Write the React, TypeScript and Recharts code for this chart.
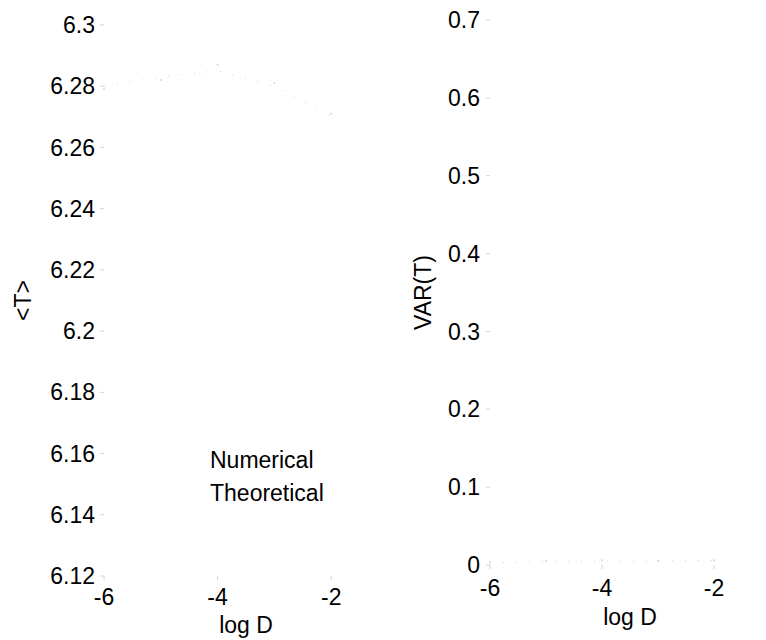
import { LineChart, Line, XAxis, YAxis, Legend } from "recharts";

// log D positions of the computed points
const logD = [-6, -5, -4, -3, -2];

// mean passage time <T>
const meanNumerical = [6.279, 6.282, 6.287, 6.281, 6.271];
const meanTheoretical = [6.28, 6.283, 6.285, 6.28, 6.27];

// variance VAR(T)
const varNumerical = [0.004, 0.005, 0.006, 0.005, 0.006];
const varTheoretical = [0.003, 0.004, 0.005, 0.005, 0.006];

const xTicks = [-6, -4, -2];
const meanTicks = [6.12, 6.14, 6.16, 6.18, 6.2, 6.22, 6.24, 6.26, 6.28, 6.3];
const varTicks = [0, 0.1, 0.2, 0.3, 0.4, 0.5, 0.6, 0.7];

const seriesNames = ["Numerical", "Theoretical"];

const meanData = logD.map((x, i) => ({
  x,
  num: meanNumerical[i],
  theo: meanTheoretical[i],
}));
const varData = logD.map((x, i) => ({
  x,
  num: varNumerical[i],
  theo: varTheoretical[i],
}));

const font = "'Liberation Sans', Arial, Helvetica, sans-serif";
const tickStyle = { fontSize: 23, fill: "#000", fontFamily: font };
const faint = "#d4d4d4";

const LegendText = () => (
  <div style={{ fontFamily: font, fontSize: 23, lineHeight: "33px", color: "#000" }}>
    {seriesNames.map((n) => (
      <div key={n}>{n}</div>
    ))}
  </div>
);

const App = () => {
  return (
    <div
      style={{
        position: "absolute",
        left: 0,
        top: 0,
        width: 766,
        height: 640,
        overflow: "hidden",
        background: "#fff",
      }}
    >
      <div style={{ position: "absolute", left: 0, top: 0 }}>
        <LineChart
          width={400}
          height={640}
          data={meanData}
          margin={{ top: 25, right: 12, left: 0, bottom: 0 }}
          style={{ fontFamily: font }}
        >
          <XAxis
            dataKey="x"
            type="number"
            domain={[-6, -1]}
            ticks={xTicks}
            height={64}
            axisLine={false}
            tickLine={{ stroke: faint }}
            tickSize={4}
            tickMargin={9}
            tick={tickStyle}
            label={{ value: "log D", position: "insideBottom", offset: 7, style: tickStyle }}
          />
          <YAxis
            type="number"
            domain={[6.12, 6.3]}
            ticks={meanTicks}
            width={104}
            axisLine={false}
            tickLine={{ stroke: faint }}
            tickSize={4}
            tickMargin={5}
            tick={tickStyle}
            label={{
              value: "<T>",
              angle: -90,
              position: "insideLeft",
              offset: 23,
              style: { ...tickStyle, textAnchor: "middle" },
            }}
          />
          <Legend
            content={<LegendText />}
            layout="vertical"
            align="center"
            verticalAlign="middle"
            wrapperStyle={{ left: 210, top: 444, width: "auto" }}
          />
          <Line
            dataKey="num"
            name="Numerical"
            stroke="none"
            dot={{ r: 1, fill: faint, stroke: "none" }}
            isAnimationActive={false}
          />
          <Line
            dataKey="theo"
            name="Theoretical"
            stroke={faint}
            strokeWidth={1}
            strokeDasharray="1 12"
            dot={false}
            isAnimationActive={false}
          />
        </LineChart>
      </div>
      <div style={{ position: "absolute", left: 386, top: 0 }}>
        <LineChart
          width={400}
          height={640}
          data={varData}
          margin={{ top: 20, right: 16, left: 0, bottom: 0 }}
          style={{ fontFamily: font }}
        >
          <XAxis
            dataKey="x"
            type="number"
            domain={[-6, -1]}
            ticks={xTicks}
            height={75}
            axisLine={false}
            tickLine={{ stroke: faint }}
            tickSize={4}
            tickMargin={11}
            tick={tickStyle}
            label={{ value: "log D", position: "insideBottom", offset: 15, style: tickStyle }}
          />
          <YAxis
            type="number"
            domain={[0, 0.7]}
            ticks={varTicks}
            width={104}
            axisLine={false}
            tickLine={{ stroke: faint }}
            tickSize={4}
            tickMargin={6}
            tick={tickStyle}
            label={{
              value: "VAR(T)",
              angle: -90,
              position: "insideLeft",
              offset: 37,
              style: { ...tickStyle, textAnchor: "middle" },
            }}
          />
          <Line
            dataKey="num"
            name="Numerical"
            stroke="none"
            dot={{ r: 1, fill: faint, stroke: "none" }}
            isAnimationActive={false}
          />
          <Line
            dataKey="theo"
            name="Theoretical"
            stroke={faint}
            strokeWidth={1}
            strokeDasharray="1 12"
            dot={false}
            isAnimationActive={false}
          />
        </LineChart>
      </div>
    </div>
  );
};

export default App;
